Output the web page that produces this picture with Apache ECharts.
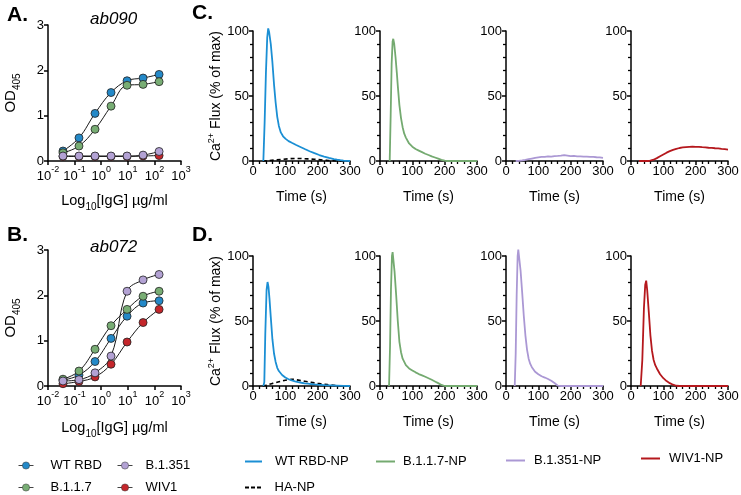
<!DOCTYPE html>
<html><head><meta charset="utf-8">
<script src="https://cdn.jsdelivr.net/npm/echarts/dist/echarts.min.js"></script>
<style>html,body{margin:0;padding:0;background:#fff}#c{width:741px;height:495px}</style>
</head><body><div id="c"></div>
<script>
// ---------- data ----------
const concentrations = [0.0366, 0.146, 0.586, 2.34, 9.375, 37.5, 150];
const variantNames = ['WT RBD', 'B.1.1.7', 'B.1.351', 'WIV1'];
const ab090_WT    = [0.22, 0.51, 1.05, 1.51, 1.77, 1.83, 1.91];
const ab090_B117  = [0.18, 0.33, 0.70, 1.21, 1.67, 1.69, 1.75];
const ab090_B1351 = [0.11, 0.11, 0.11, 0.11, 0.11, 0.13, 0.21];
const ab090_WIV1  = [0.10, 0.10, 0.10, 0.10, 0.10, 0.11, 0.12];
const ab072_WT    = [0.13, 0.24, 0.54, 1.05, 1.54, 1.83, 1.88];
const ab072_B117  = [0.15, 0.33, 0.81, 1.33, 1.69, 1.98, 2.09];
const ab072_B1351 = [0.11, 0.14, 0.29, 0.66, 2.09, 2.34, 2.46];
const ab072_WIV1  = [0.05, 0.10, 0.20, 0.48, 0.97, 1.40, 1.69];
const logTickExponents = [-2, -1, 0, 1, 2, 3];

const traceNames = ['WT RBD-NP', 'B.1.1.7-NP', 'B.1.351-NP', 'WIV1-NP', 'HA-NP'];
const C_WT = [[32,0],[36,30],[40,68],[44,95],[47,102],[50,99],[55,90],[60,76],[65,59],[70,45],[75,34],[80,27],[86,22],[93,19],[101,17],[110,15.3],[120,14],[132,12.5],[145,11],[160,9.2],[175,7.5],[190,6],[205,4.6],[220,3.4],[235,2.4],[250,1.5],[260,1],[270,0.6],[280,0.3],[290,0.1],[300,0]];
const C_HA = [[30,0],[50,0.3],[70,0.8],[90,1.3],[110,1.7],[130,2],[150,1.9],[170,1.6],[190,1.3],[210,0.9],[230,0.5],[250,0.2],[270,0],[300,0]];
const C_B117 = [[30,0],[33,35],[36,75],[39,92],[41,94],[44,90],[48,80],[52,68],[55,58],[60,43],[65,33],[70,26],[75,21],[80,18],[90,13.5],[100,11],[110,9.2],[120,8],[130,6.8],[140,5.6],[150,4.6],[160,3.6],[170,2.7],[180,1.8],[190,0.9],[200,0.2],[210,0],[300,0]];
const C_B1351 = [[30,0],[40,0.1],[50,0.4],[60,0.8],[70,1.4],[80,1.9],[90,2.4],[100,2.8],[110,3.1],[120,3.2],[130,3.5],[140,3.4],[150,3.8],[160,3.9],[170,4.2],[180,4.6],[185,4.1],[190,4.2],[200,3.8],[210,3.9],[220,3.6],[230,3.6],[240,3.3],[250,3.4],[260,3.1],[270,3.1],[280,2.9],[290,2.8],[300,2.4]];
const C_WIV1 = [[25,0],[40,0],[55,0],[60,0.3],[70,1.0],[80,2.2],[90,3.6],[100,5.0],[110,6.4],[120,7.6],[130,8.6],[140,9.4],[150,10],[160,10.4],[170,10.7],[180,10.9],[190,11.1],[200,10.9],[210,10.9],[220,10.6],[230,10.5],[240,10.2],[250,10.1],[260,9.8],[270,9.7],[280,9.3],[290,9.1],[300,8.8]];
const D_WT = [[32,0],[35,3],[38,40],[42,74],[45,80],[48,76],[51,67],[55,53],[60,36],[65,25],[70,18.5],[75,14],[80,11.5],[90,8.5],[100,6.5],[110,5.2],[120,4.3],[130,3.6],[140,3],[150,2.5],[160,2.1],[170,1.8],[180,1.5],[190,1.2],[200,1],[220,0.7],[240,0.5],[260,0.3],[280,0.1],[300,0]];
const D_HA = [[30,0],[40,0.5],[50,1.3],[60,2],[70,2.6],[80,3.2],[90,3.8],[100,4.4],[110,4.9],[120,5.2],[130,5],[140,4.5],[150,4],[160,3.6],[170,3.2],[180,2.8],[190,2.4],[200,2],[210,1.7],[220,1.4],[230,1.1],[240,0.8],[250,0.5],[260,0.2],[270,0],[300,0]];
const D_B117 = [[28,0],[31,30],[34,75],[37,100],[39,103],[41,102],[45,88],[50,70],[55,50],[60,34],[65,26],[70,21],[80,16],[90,13.5],[100,12],[110,10.5],[120,9.2],[130,8.2],[140,7.1],[150,6],[160,4.8],[170,3.5],[180,2.2],[190,0.8],[200,0],[300,0]];
const D_B1351 = [[27,0],[30,25],[33,70],[36,100],[38,105],[40,104],[45,89],[50,72],[55,54],[60,39],[65,28],[70,21],[75,17],[80,14.5],[90,11],[100,9],[110,7.5],[120,6.5],[130,5.4],[140,4],[150,2.3],[160,0.3],[170,0],[300,0]];
const D_WIV1 = [[30,0],[35,20],[40,60],[44,78],[47,81],[50,74],[55,57],[60,39],[65,27],[70,20],[75,16],[80,13.5],[90,9],[100,6],[110,3.8],[120,2.2],[130,1],[140,0.2],[150,0],[300,0]];

// ---------- styling ----------
const FONT = '"Liberation Sans", Arial, Helvetica, sans-serif';
const markerColors = {'WT RBD':'#2489c8','B.1.1.7':'#78ad74','B.1.351':'#b3a2d4','WIV1':'#c4262b'};
const traceColors = {'WT RBD-NP':'#1b8fd4','B.1.1.7-NP':'#74aa70','B.1.351-NP':'#ab98d4','WIV1-NP':'#b5181d','HA-NP':'#000'};

const chart = echarts.init(document.getElementById('c'), null, {renderer:'canvas'});

function baseAxis() {
  return {
    axisLine:{show:true, onZero:false, lineStyle:{color:'#000', width:1.5}},
    axisTick:{show:true, length:4, lineStyle:{color:'#000', width:1.5}},
    axisLabel:{color:'#000', fontSize:13, fontFamily:FONT, margin:4},
    splitLine:{show:false}
  };
}

const grids = [], xAxes = [], yAxes = [], series = [];
// Panels A and B
const abPanels = [
  {top:25, data:[ab090_WT, ab090_B117, ab090_B1351, ab090_WIV1], nameGap:29},
  {top:250, data:[ab072_WT, ab072_B117, ab072_B1351, ab072_WIV1], nameGap:31}
];
abPanels.forEach((p, gi) => {
  grids.push({left:48, top:p.top, width:133, height:136, outerBoundsMode:'none', containLabel:false});
  xAxes.push(Object.assign(baseAxis(), {
    gridIndex:gi, type:'log', logBase:10, min:Math.pow(10, logTickExponents[0]), max:Math.pow(10, logTickExponents[logTickExponents.length-1]),
    axisLabel:{color:'#000', fontFamily:FONT, margin:4,
      formatter: v => '{b|10}{s|' + Math.round(Math.log10(v)) + '}',
      rich:{b:{fontSize:13, lineHeight:18, verticalAlign:'bottom', fontFamily:FONT, color:'#000'},
            s:{fontSize:9, lineHeight:18, verticalAlign:'top', fontFamily:FONT, color:'#000'}}},
    minorTick:{show:false},
    name:'{a|Log}{b|10}{a|[IgG] µg/ml}', nameLocation:'middle', nameGap:p.nameGap,
    nameTextStyle:{rich:{a:{fontSize:14.5, lineHeight:22, verticalAlign:'middle', fontFamily:FONT, color:'#000'},
                         b:{fontSize:10, lineHeight:22, verticalAlign:'bottom', fontFamily:FONT, color:'#000'}}}
  }));
  yAxes.push(Object.assign(baseAxis(), {
    gridIndex:gi, type:'value', min:0, max:3, interval:1,
    name:'{a|OD}{b|405}', nameLocation:'middle', nameRotate:90, nameGap:26,
    nameTextStyle:{rich:{a:{fontSize:15, lineHeight:22, verticalAlign:'middle', fontFamily:FONT, color:'#000'},
                         b:{fontSize:10, lineHeight:22, verticalAlign:'bottom', fontFamily:FONT, color:'#000'}}}
  }));
  const order = [0, 1, 3, 2];
  order.forEach(k => {
    const nm = variantNames[k];
    series.push({
      type:'line', name:nm, xAxisIndex:gi, yAxisIndex:gi,
      data: concentrations.map((c, i) => [c, p.data[k][i]]),
      smooth:0.4, symbol:'circle', symbolSize:8, showSymbol:true,
      lineStyle:{color:'#1a1a1a', width:1},
      itemStyle:{color:markerColors[nm], borderColor:'#222', borderWidth:0.8},
      emphasis:{disabled:true}, animation:false
    });
  });
});

// Panels C and D
const lefts = [253, 380, 506, 631];
const rows = [
  {top:31, traces:[[['WT RBD-NP', C_WT], ['HA-NP', C_HA]], [['B.1.1.7-NP', C_B117]], [['B.1.351-NP', C_B1351]], [['WIV1-NP', C_WIV1]]]},
  {top:256, traces:[[['WT RBD-NP', D_WT], ['HA-NP', D_HA]], [['B.1.1.7-NP', D_B117]], [['B.1.351-NP', D_B1351]], [['WIV1-NP', D_WIV1]]]}
];
rows.forEach(r => {
  r.traces.forEach((tr, j) => {
    const gi = grids.length;
    grids.push({left:lefts[j], top:r.top, width:97, height:130, outerBoundsMode:'none', containLabel:false});
    xAxes.push(Object.assign(baseAxis(), {
      gridIndex:gi, type:'value', min:0, max:300, interval:100,
      minorTick:{show:true, splitNumber:5, length:3, lineStyle:{color:'#000', width:1.3}},
      name:'Time (s)', nameLocation:'middle', nameGap:29,
      nameTextStyle:{fontSize:14, color:'#000', fontFamily:FONT}
    }));
    const ya = Object.assign(baseAxis(), {
      gridIndex:gi, type:'value', min:0, max:100, interval:50,
      minorTick:{show:true, splitNumber:5, length:3, lineStyle:{color:'#000', width:1.3}}
    });
    if (j === 0) {
      Object.assign(ya, {
        name:'{a|Ca}{s|2+}{a| Flux (% of max)}', nameLocation:'middle', nameRotate:90, nameGap:24,
        nameTextStyle:{rich:{a:{fontSize:14, lineHeight:16, verticalAlign:'bottom', fontFamily:FONT, color:'#000'},
                             s:{fontSize:9, lineHeight:16, verticalAlign:'top', fontFamily:FONT, color:'#000'}}}
      });
    }
    yAxes.push(ya);
    tr.slice().reverse().forEach(([nm, d]) => {
      series.push({
        type:'line', name:nm, xAxisIndex:gi, yAxisIndex:gi, data:d,
        symbol:'none', showSymbol:false, clip:false,
        lineStyle:{color:traceColors[nm], width:nm === 'HA-NP' ? 1.6 : 1.8, type: nm === 'HA-NP' ? [4, 3] : 'solid'},
        itemStyle:{color:traceColors[nm]},
        emphasis:{disabled:true}, animation:false
      });
    });
  });
});

// legends
function leg(name, left, cy, gap, icon, w, h) {
  const o = {data:[name], left:left, top:cy - 7, itemWidth:w || 15, itemHeight:h || 9, padding:0, selectedMode:false,
          textStyle:{fontSize:13, color:'#000', fontFamily:FONT, padding:[0,0,0,gap]}};
  if (icon) o.icon = icon;
  else { o.itemStyle = {borderWidth:0.5, borderColor:'#333'}; o.lineStyle = {color:'#444', width:1}; }
  return o;
}
const LINE_ICON = 'rect';
const DASH_ICON = 'path://M0,0h4v2h-4z M6,0h4v2h-4z M12,0h4v2h-4z';
const legends = [
  leg('WT RBD', 18, 466, 12), leg('B.1.351', 117, 466, 8),
  leg('B.1.1.7', 18, 488, 12), leg('WIV1', 117, 488, 8),
  leg('WT RBD-NP', 245, 462, 8, LINE_ICON, 17, 2), leg('B.1.1.7-NP', 376, 462, 3, LINE_ICON, 19, 2),
  leg('B.1.351-NP', 506, 461, 4, LINE_ICON, 19, 2), leg('WIV1-NP', 641, 459, 4, LINE_ICON, 19, 2),
  leg('HA-NP', 245, 488, 8, DASH_ICON, 17, 2)
];

function ttl(text, left, top, opts) {
  return Object.assign({text, left, top, padding:0,
    textStyle:Object.assign({fontSize:21, fontWeight:'bold', color:'#000', fontFamily:FONT}, opts || {})});
}
const titles = [
  ttl('A.', 7, 5), ttl('B.', 7, 225), ttl('C.', 192, 3), ttl('D.', 192, 225),
  ttl('ab090', 90, 11, {fontSize:17, fontWeight:'normal', fontStyle:'italic'}),
  ttl('ab072', 90, 239, {fontSize:17, fontWeight:'normal', fontStyle:'italic'})
];

chart.setOption({
  animation:false,
  backgroundColor:'#fff',
  textStyle:{fontFamily:FONT},
  title:titles,
  legend:legends,
  grid:grids, xAxis:xAxes, yAxis:yAxes, series:series
});
</script></body></html>
